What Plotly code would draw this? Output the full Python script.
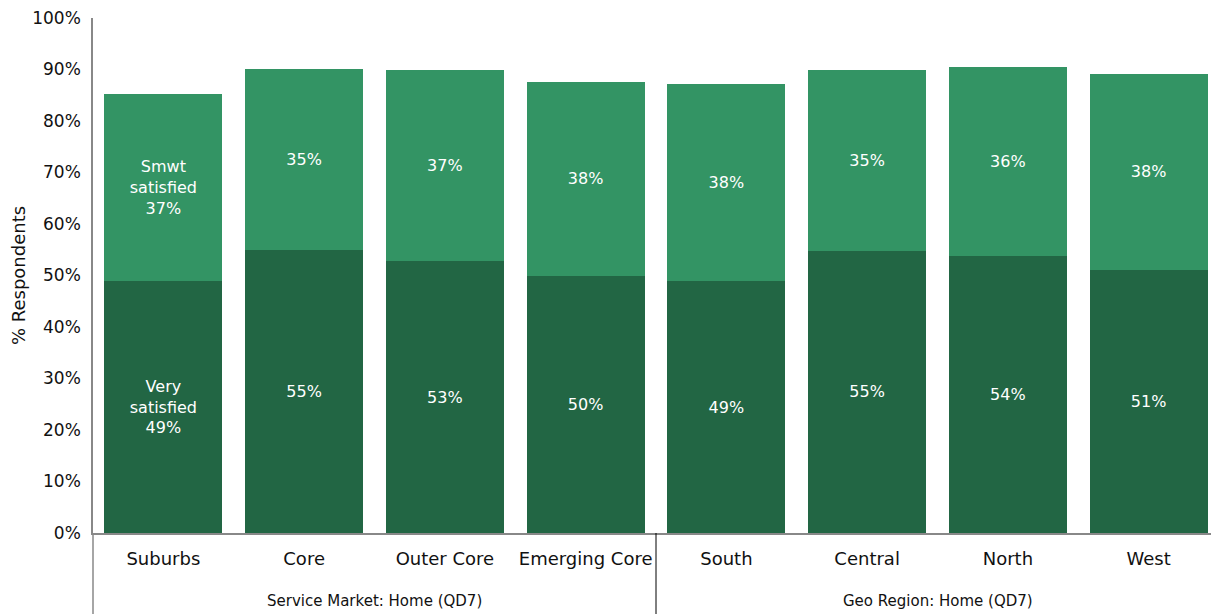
import plotly.graph_objects as go

categories = ["Suburbs", "Core", "Outer Core", "Emerging Core", "South", "Central", "North", "West"]
group_names = ["Service Market: Home (QD7)", "Geo Region: Home (QD7)"]
group_sizes = [4, 4]
very_satisfied = [48.9, 55.0, 52.8, 49.9, 48.9, 54.8, 53.8, 51.1]
smwt_satisfied = [36.4, 35.1, 37.1, 37.7, 38.3, 35.1, 36.7, 38.0]
very_labels = ["Very<br>satisfied<br>49%", "55%", "53%", "50%", "49%", "55%", "54%", "51%"]
smwt_labels = ["Smwt<br>satisfied<br>37%", "35%", "37%", "38%", "38%", "35%", "36%", "38%"]
y_ticks = [0, 10, 20, 30, 40, 50, 60, 70, 80, 90, 100]

FONT = "DejaVu Sans"
DARK = "#226644"
LIGHT = "#339464"
TXT = "#111111"

W, H = 1211, 606
ML, MR, MT, MB = 85, 0, 10, 81
PH = H - MT - MB

fig = go.Figure()
fig.add_trace(go.Bar(
    x=categories, y=very_satisfied, name="Very satisfied",
    marker=dict(color=DARK, line=dict(width=0)),
    text=very_labels, textposition="inside", insidetextanchor="middle",
    textfont=dict(family=FONT, size=16, color="white"), textangle=0,
    hoverinfo="skip",
))
fig.add_trace(go.Bar(
    x=categories, y=smwt_satisfied, name="Smwt satisfied",
    marker=dict(color=LIGHT, line=dict(width=0)),
    text=smwt_labels, textposition="inside", insidetextanchor="middle",
    textfont=dict(family=FONT, size=16, color="white"), textangle=0,
    hoverinfo="skip",
))

# group labels and divider
start = 0
for name, n in zip(group_names, group_sizes):
    mid = start + (n - 1) / 2
    fig.add_annotation(x=mid, xref="x", y=-68 / PH, yref="paper",
                       text=name, showarrow=False, yanchor="middle",
                       font=dict(family=FONT, size=15, color=TXT))
    start += n
    if start < len(categories):
        fig.add_shape(type="line", xref="x", yref="paper",
                      x0=start - 0.5, x1=start - 0.5, y0=0, y1=-MB / PH,
                      line=dict(color="#000000", width=1))
# y-axis line extension below the plot
fig.add_shape(type="line", xref="paper", yref="paper", x0=0, x1=0,
              y0=0, y1=-MB / PH, line=dict(color="#888888", width=1.5))

fig.update_layout(
    barmode="stack", bargap=0.16,
    width=W, height=H,
    margin=dict(l=ML, r=MR, t=MT, b=MB),
    plot_bgcolor="white", paper_bgcolor="white",
    showlegend=False,
    font=dict(family=FONT, size=16, color=TXT),
    uniformtext=dict(minsize=16, mode="show"),
)
fig.update_xaxes(
    type="category",
    showline=True, linecolor="#888888", linewidth=1.5,
    ticks="", showgrid=False,
    tickfont=dict(family=FONT, size=18, color=TXT),
    ticklabelstandoff=9,
)
fig.update_yaxes(
    range=[0, 100], tickvals=y_ticks,
    ticktext=[f"{v}%" for v in y_ticks],
    showline=True, linecolor="#888888", linewidth=1.5,
    showgrid=False, ticks="", zeroline=False,
    tickfont=dict(family=FONT, size=17, color=TXT),
    ticklabelstandoff=7, ticklabeloverflow="allow",
    title=dict(text="% Respondents", font=dict(family=FONT, size=18, color=TXT), standoff=6),
)

fig.write_html("out.html")
